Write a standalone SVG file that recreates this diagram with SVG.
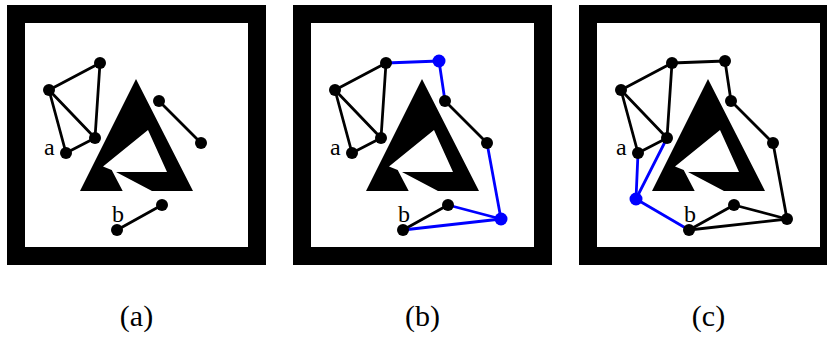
<svg xmlns="http://www.w3.org/2000/svg" xmlns:xlink="http://www.w3.org/1999/xlink" width="827" height="337" viewBox="0 0 827 337">
<style>
.frame{fill:none;stroke:#000;stroke-width:18}
.obst{fill:#000}
.e{stroke:#000;stroke-width:2.8;stroke-linecap:round}
.eb{stroke:#0000ff;stroke-width:2.8;stroke-linecap:round}
.n{fill:#000}
.nb{fill:#0000ff}
.lbl{font-family:"Liberation Serif","DejaVu Serif",serif;font-size:24px;fill:#000}
.cap{font-family:"Liberation Serif","DejaVu Serif",serif;font-size:30px;fill:#000;text-anchor:middle}
</style>
<defs>
<path id="tri" d="M80,191 L136,79 L193,191 L152,191 L116,172 L167,172 L148,130 L103,166.5 L111.7,170 L122.7,191 Z"/>
</defs>
<rect x="0" y="0" width="827" height="337" fill="#fff"/>

<!-- Panel (a) -->
<g id="panel-a">
<rect class="frame" x="16" y="14" width="241" height="242"/>
<use xlink:href="#tri" class="obst"/>
<g id="a-connectors">
<line class="e" x1="49" y1="90" x2="100" y2="63"/>
<line class="e" x1="100" y1="63" x2="95" y2="138"/>
<line class="e" x1="49" y1="90" x2="95" y2="138"/>
<line class="e" x1="49" y1="90" x2="66" y2="153"/>
<line class="e" x1="66" y1="153" x2="95" y2="138"/>
<line class="e" x1="159" y1="101" x2="201" y2="143"/>
<line class="e" x1="117" y1="230" x2="162" y2="205"/>
</g>
<g id="a-A1"><circle class="n" cx="100" cy="63" r="6"/></g>
<g id="a-A2"><circle class="n" cx="49" cy="90" r="6"/></g>
<g id="a-A3"><circle class="n" cx="95" cy="138" r="6"/></g>
<g id="a-A4"><circle class="n" cx="66" cy="153" r="6"/></g>
<g id="a-R1"><circle class="n" cx="159" cy="101" r="6"/></g>
<g id="a-R2"><circle class="n" cx="201" cy="143" r="6"/></g>
<g id="a-B1"><circle class="n" cx="117" cy="230" r="6"/></g>
<g id="a-B2"><circle class="n" cx="162" cy="205" r="6"/></g>
<text class="lbl" x="44" y="155">a</text>
<text class="lbl" x="112" y="222">b</text>
<text class="cap" x="136.5" y="326">(a)</text>
</g>

<!-- Panel (b) -->
<g id="panel-b" transform="translate(286,0)">
<rect class="frame" x="16" y="14" width="241" height="242"/>
<use xlink:href="#tri" class="obst"/>
<g id="b-connectors">
<line class="e" x1="49" y1="90" x2="100" y2="63"/>
<line class="e" x1="100" y1="63" x2="95" y2="138"/>
<line class="e" x1="49" y1="90" x2="95" y2="138"/>
<line class="e" x1="49" y1="90" x2="66" y2="153"/>
<line class="e" x1="66" y1="153" x2="95" y2="138"/>
<line class="e" x1="159" y1="101" x2="201" y2="143"/>
<line class="e" x1="117" y1="230" x2="162" y2="205"/>
<line class="eb" x1="100" y1="63" x2="153" y2="61"/>
<line class="eb" x1="153" y1="61" x2="159" y2="101"/>
<line class="eb" x1="201" y1="143" x2="215" y2="219"/>
<line class="eb" x1="215" y1="219" x2="162" y2="205"/>
<line class="eb" x1="215" y1="219" x2="117" y2="230"/>
</g>
<g id="b-A1"><circle class="n" cx="100" cy="63" r="6"/></g>
<g id="b-A2"><circle class="n" cx="49" cy="90" r="6"/></g>
<g id="b-A3"><circle class="n" cx="95" cy="138" r="6"/></g>
<g id="b-A4"><circle class="n" cx="66" cy="153" r="6"/></g>
<g id="b-R1"><circle class="n" cx="159" cy="101" r="6"/></g>
<g id="b-R2"><circle class="n" cx="201" cy="143" r="6"/></g>
<g id="b-B1"><circle class="n" cx="117" cy="230" r="6"/></g>
<g id="b-B2"><circle class="n" cx="162" cy="205" r="6"/></g>
<g id="b-N1"><circle class="nb" cx="153" cy="61" r="6.5"/></g>
<g id="b-N2"><circle class="nb" cx="215" cy="219" r="6.5"/></g>
<text class="lbl" x="44" y="155">a</text>
<text class="lbl" x="112" y="222">b</text>
<text class="cap" x="136.5" y="326">(b)</text>
</g>

<!-- Panel (c) -->
<g id="panel-c" transform="translate(572,0)">
<rect class="frame" x="16" y="14" width="241" height="242"/>
<use xlink:href="#tri" class="obst"/>
<g id="c-connectors">
<line class="e" x1="49" y1="90" x2="100" y2="63"/>
<line class="e" x1="100" y1="63" x2="95" y2="138"/>
<line class="e" x1="49" y1="90" x2="95" y2="138"/>
<line class="e" x1="49" y1="90" x2="66" y2="153"/>
<line class="e" x1="66" y1="153" x2="95" y2="138"/>
<line class="e" x1="100" y1="63" x2="153" y2="61"/>
<line class="e" x1="153" y1="61" x2="159" y2="101"/>
<line class="e" x1="159" y1="101" x2="201" y2="143"/>
<line class="e" x1="201" y1="143" x2="215" y2="219"/>
<line class="e" x1="215" y1="219" x2="162" y2="205"/>
<line class="e" x1="215" y1="219" x2="117" y2="230"/>
<line class="e" x1="117" y1="230" x2="162" y2="205"/>
<line class="eb" x1="66" y1="153" x2="64" y2="199"/>
<line class="eb" x1="95" y1="138" x2="64" y2="199"/>
<line class="eb" x1="64" y1="199" x2="117" y2="230"/>
</g>
<g id="c-A1"><circle class="n" cx="100" cy="63" r="6"/></g>
<g id="c-A2"><circle class="n" cx="49" cy="90" r="6"/></g>
<g id="c-A3"><circle class="n" cx="95" cy="138" r="6"/></g>
<g id="c-A4"><circle class="n" cx="66" cy="153" r="6"/></g>
<g id="c-R1"><circle class="n" cx="159" cy="101" r="6"/></g>
<g id="c-R2"><circle class="n" cx="201" cy="143" r="6"/></g>
<g id="c-B1"><circle class="n" cx="117" cy="230" r="6"/></g>
<g id="c-B2"><circle class="n" cx="162" cy="205" r="6"/></g>
<g id="c-N1"><circle class="n" cx="153" cy="61" r="6"/></g>
<g id="c-N2"><circle class="n" cx="215" cy="219" r="6"/></g>
<g id="c-N3"><circle class="nb" cx="64" cy="199" r="6.5"/></g>
<text class="lbl" x="44" y="155">a</text>
<text class="lbl" x="112" y="222">b</text>
<text class="cap" x="136.5" y="326">(c)</text>
</g>
</svg>
